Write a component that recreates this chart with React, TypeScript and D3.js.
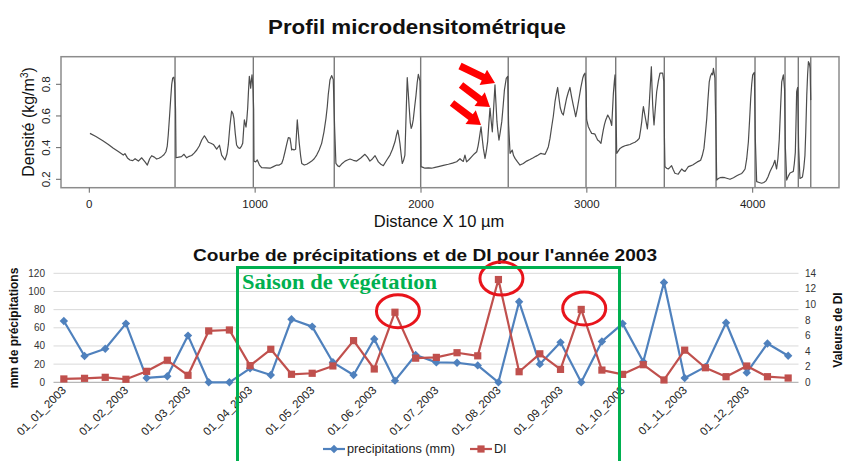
import React from 'react';
import * as d3 from 'd3';

const W = 845;
const H = 461;

// ---------- Top chart: microdensity profile ----------
const ringBoundaries = [517, 989, 1477, 1998, 2526, 2995, 3174, 3467, 3779, 4014, 4195, 4275, 4350];
const distanceTicks = [0, 1000, 2000, 3000, 4000];
const densityTicks = [0.2, 0.4, 0.6, 0.8];

const densityProfile: [number, number][] = [
  // ring 1
  [4, 0.49], [40, 0.47], [84, 0.442], [115, 0.42], [145, 0.396], [175, 0.375], [205, 0.353], [215, 0.362], [230, 0.335], [245, 0.322],
  [262, 0.318], [276, 0.33], [296, 0.315], [316, 0.336], [336, 0.31], [350, 0.29], [364, 0.33], [376, 0.349], [392, 0.34], [406, 0.328],
  [420, 0.333], [436, 0.343], [450, 0.355], [462, 0.374], [470, 0.41], [476, 0.48], [484, 0.6], [491, 0.712], [497, 0.8], [503, 0.84], [510, 0.845], [515, 0.806],
  // ring 2
  [520, 0.64], [523, 0.336], [540, 0.34], [556, 0.343], [571, 0.358], [587, 0.336], [602, 0.345], [617, 0.35], [632, 0.365], [648, 0.385],
  [663, 0.41], [678, 0.448], [694, 0.475], [706, 0.455], [718, 0.434], [733, 0.428], [748, 0.42], [768, 0.39], [785, 0.415], [798, 0.353],
  [818, 0.322], [830, 0.36], [838, 0.417], [848, 0.54], [858, 0.63], [866, 0.615], [872, 0.585], [880, 0.49], [888, 0.417], [898, 0.4],
  [908, 0.395], [918, 0.41], [925, 0.427], [931, 0.52], [935, 0.575], [940, 0.55], [945, 0.53], [950, 0.58], [955, 0.65], [960, 0.76],
  [965, 0.85], [969, 0.82], [973, 0.775], [977, 0.82], [981, 0.86], [987, 0.78],
  // ring 3
  [991, 0.64], [993, 0.315], [1003, 0.31], [1013, 0.322], [1026, 0.29], [1039, 0.273], [1065, 0.272], [1090, 0.27], [1110, 0.28], [1130, 0.29],
  [1145, 0.29], [1160, 0.3], [1170, 0.33], [1180, 0.374], [1190, 0.42], [1200, 0.463], [1210, 0.46], [1216, 0.42], [1220, 0.385], [1227, 0.39],
  [1234, 0.385], [1244, 0.39], [1250, 0.5], [1254, 0.575], [1260, 0.5], [1266, 0.427], [1274, 0.35], [1281, 0.3], [1296, 0.29], [1311, 0.295],
  [1326, 0.305], [1341, 0.315], [1356, 0.33], [1371, 0.353], [1386, 0.385], [1401, 0.427], [1415, 0.5], [1427, 0.585], [1435, 0.66], [1441, 0.737],
  [1446, 0.78], [1451, 0.827], [1461, 0.855], [1471, 0.83],
  // ring 4
  [1479, 0.53], [1487, 0.3], [1498, 0.285], [1508, 0.28], [1525, 0.3], [1542, 0.315], [1557, 0.322], [1572, 0.328], [1592, 0.32], [1612, 0.315],
  [1637, 0.335], [1662, 0.358], [1677, 0.34], [1692, 0.315], [1708, 0.33], [1723, 0.349], [1733, 0.33], [1743, 0.31], [1758, 0.295], [1773, 0.286],
  [1793, 0.32], [1813, 0.353], [1828, 0.39], [1843, 0.437], [1852, 0.48], [1860, 0.51], [1867, 0.47], [1873, 0.427], [1880, 0.36], [1887, 0.3],
  [1895, 0.32], [1903, 0.353], [1910, 0.6], [1917, 0.842], [1923, 0.75], [1929, 0.65], [1935, 0.56], [1941, 0.522], [1947, 0.54], [1953, 0.575],
  [1961, 0.65], [1970, 0.732], [1977, 0.81], [1984, 0.863], [1994, 0.82],
  // ring 5
  [1999, 0.45], [2000, 0.28], [2012, 0.275], [2024, 0.27], [2044, 0.272], [2064, 0.27], [2085, 0.275], [2105, 0.28], [2135, 0.288], [2165, 0.295],
  [2190, 0.302], [2215, 0.311], [2235, 0.33], [2245, 0.32], [2255, 0.313], [2265, 0.353], [2275, 0.31], [2290, 0.325], [2306, 0.343], [2321, 0.36],
  [2336, 0.374], [2344, 0.41], [2350, 0.448], [2356, 0.49], [2362, 0.532], [2369, 0.46], [2376, 0.395], [2386, 0.332], [2394, 0.38], [2402, 0.44],
  [2409, 0.55], [2416, 0.65], [2423, 0.57], [2430, 0.5], [2438, 0.65], [2446, 0.796], [2452, 0.68], [2458, 0.564], [2464, 0.5], [2470, 0.448],
  [2478, 0.5], [2487, 0.564], [2495, 0.66], [2503, 0.764], [2514, 0.838], [2523, 0.85],
  // ring 6
  [2528, 0.55], [2537, 0.364], [2550, 0.385], [2558, 0.35], [2567, 0.332], [2582, 0.31], [2597, 0.29], [2617, 0.3], [2637, 0.315], [2657, 0.325],
  [2677, 0.336], [2692, 0.345], [2707, 0.353], [2723, 0.364], [2735, 0.36], [2748, 0.358], [2758, 0.38], [2768, 0.406], [2778, 0.46], [2788, 0.532],
  [2798, 0.6], [2808, 0.69], [2816, 0.74], [2824, 0.78], [2832, 0.71], [2840, 0.65], [2849, 0.62], [2858, 0.606], [2868, 0.66], [2878, 0.712],
  [2888, 0.75], [2898, 0.78], [2908, 0.72], [2918, 0.669], [2926, 0.63], [2933, 0.595], [2943, 0.65], [2953, 0.712], [2964, 0.78], [2975, 0.838],
  [2982, 0.86], [2989, 0.87],
  // ring 7
  [2996, 0.75], [2999, 0.575], [3009, 0.532], [3019, 0.51], [3029, 0.49], [3039, 0.488], [3049, 0.485], [3057, 0.465], [3065, 0.448], [3075, 0.44],
  [3085, 0.427], [3092, 0.47], [3099, 0.511], [3106, 0.545], [3114, 0.575], [3120, 0.59], [3126, 0.606], [3134, 0.59], [3141, 0.575], [3146, 0.555],
  [3150, 0.54], [3155, 0.64], [3160, 0.743], [3166, 0.82], [3170, 0.86],
  // ring 8
  [3176, 0.62], [3180, 0.364], [3190, 0.38], [3200, 0.395], [3215, 0.405], [3230, 0.412], [3245, 0.416], [3260, 0.42], [3275, 0.428], [3290, 0.434],
  [3304, 0.445], [3316, 0.459], [3324, 0.51], [3331, 0.564], [3336, 0.62], [3341, 0.659], [3349, 0.61], [3357, 0.564], [3365, 0.518], [3370, 0.58],
  [3376, 0.669], [3383, 0.8], [3389, 0.911], [3393, 0.78], [3397, 0.669], [3401, 0.6], [3405, 0.543], [3413, 0.65], [3421, 0.753], [3431, 0.82],
  [3441, 0.87], [3457, 0.87], [3464, 0.82],
  // ring 9
  [3468, 0.45], [3471, 0.28], [3481, 0.27], [3491, 0.265], [3501, 0.275], [3511, 0.286], [3521, 0.26], [3531, 0.238], [3541, 0.235], [3551, 0.233],
  [3562, 0.25], [3572, 0.265], [3582, 0.255], [3592, 0.25], [3602, 0.265], [3612, 0.28], [3625, 0.285], [3638, 0.29], [3652, 0.3], [3666, 0.31],
  [3676, 0.315], [3686, 0.32], [3696, 0.35], [3706, 0.395], [3714, 0.48], [3723, 0.585], [3730, 0.7], [3738, 0.816], [3745, 0.85], [3753, 0.87],
  [3758, 0.86], [3763, 0.9], [3772, 0.84],
  // ring 10
  [3780, 0.4], [3783, 0.195], [3793, 0.205], [3803, 0.21], [3818, 0.212], [3833, 0.21], [3848, 0.205], [3863, 0.2], [3884, 0.21], [3904, 0.222],
  [3919, 0.23], [3934, 0.237], [3944, 0.25], [3954, 0.265], [3964, 0.33], [3974, 0.437], [3981, 0.57], [3988, 0.712], [3994, 0.8], [4000, 0.86],
  [4010, 0.875],
  // ring 11
  [4016, 0.45], [4024, 0.185], [4039, 0.18], [4054, 0.175], [4067, 0.18], [4080, 0.19], [4092, 0.215], [4104, 0.248], [4114, 0.27], [4124, 0.29],
  [4134, 0.32], [4139, 0.29], [4144, 0.265], [4152, 0.33], [4160, 0.45], [4168, 0.65], [4175, 0.816], [4185, 0.86], [4192, 0.77],
  // ring 12
  [4197, 0.4], [4205, 0.195], [4215, 0.22], [4225, 0.24], [4235, 0.245], [4245, 0.25], [4251, 0.3], [4257, 0.37], [4261, 0.55], [4265, 0.753],
  [4271, 0.78],
  // ring 13
  [4277, 0.4], [4285, 0.205], [4293, 0.21], [4300, 0.215], [4308, 0.27], [4315, 0.35], [4320, 0.5], [4326, 0.73], [4331, 0.86], [4336, 0.943],
  [4342, 0.93], [4346, 0.9], [4350, 0.7],
];

// ---------- Bottom chart: precipitation and DI ----------
const monthLabels = [
  '01_01_2003', '01_02_2003', '01_03_2003', '01_04_2003', '01_05_2003', '01_06_2003',
  '01_07_2003', '01_08_2003', '01_09_2003', '01_10_2003', '01_11_2003', '01_12_2003',
];
const precipitation = [
  67.5, 29, 37, 64.6, 4.8, 6.6, 51.4, 0, 0, 15.4, 8, 69.4, 61.3, 22, 8, 47.7, 1.8, 30,
  21.9, 21.5, 18.6, 0, 88.6, 20, 44, 0, 45, 64.6, 22.6, 109.8, 4.7, 17, 65.6, 10.6, 42.7, 29.2,
];
const diValues = [
  0.43, 0.51, 0.64, 0.39, 1.41, 2.83, 0.9, 6.6, 6.72, 2.14, 4.24, 1.03, 1.16, 2.1, 5.35, 1.71, 9.0, 3.1,
  3.2, 3.8, 3.4, 13.2, 1.36, 3.66, 1.66, 9.36, 1.57, 1.02, 2.26, 0.3, 4.13, 1.87, 0.72, 2.09, 0.72, 0.55,
];
const circledIndices = [16, 21, 25];
const precipTicks = [0, 20, 40, 60, 80, 100, 120];
const diTicks = [0, 2, 4, 6, 8, 10, 12, 14];

const BLUE = '#4F81BD';
const RED = '#C0504D';
const GREEN = '#00B050';
const FONT = 'Arial, "Liberation Sans", sans-serif';

function Arrow({ x1, y1, x2, y2 }: { x1: number; y1: number; x2: number; y2: number }) {
  const ang = Math.atan2(y2 - y1, x2 - x1);
  const len = Math.hypot(x2 - x1, y2 - y1);
  const hl = 13, hw = 8.5, sw = 3.6;
  const pts: [number, number][] = [
    [0, -sw], [len - hl, -sw], [len - hl, -hw], [len, 0], [len - hl, hw], [len - hl, sw], [0, sw],
  ];
  const d = pts.map(([a, b]) => `${a},${b}`).join(' ');
  return (
    <polygon
      points={d}
      fill="#FF0000"
      transform={`translate(${x1},${y1}) rotate(${(ang * 180) / Math.PI})`}
    />
  );
}

export default function App() {
  // top scales
  const tL = 61, tR = 839, tT = 56.7, tB = 187.7;
  const xTop = d3.scaleLinear().domain([0, 4000]).range([89.3, 752.7]);
  const yTop = d3.scaleLinear().domain([0.2, 0.8]).range([179.3, 84.3]);
  const profileLine = d3
    .line<[number, number]>()
    .x((d) => xTop(d[0]))
    .y((d) => yTop(d[1]))(densityProfile) || '';

  // bottom scales
  const bL = 53.5, bR = 798.5;
  const xBand = d3.scaleBand<number>().domain(d3.range(precipitation.length)).range([bL, bR]);
  const xc = (i: number) => (xBand(i) || 0) + xBand.bandwidth() / 2;
  const yP = d3.scaleLinear().domain([0, 120]).range([382.3, 273.3]);
  const yD = d3.scaleLinear().domain([0, 14]).range([382.3, 273.3]);
  const precipLine = d3.line<number>().x((_, i) => xc(i)).y((d) => yP(d))(precipitation) || '';
  const diLine = d3.line<number>().x((_, i) => xc(i)).y((d) => yD(d))(diValues) || '';

  const diamond = (x: number, y: number, r = 4.2) => `M${x},${y - r}L${x + r},${y}L${x},${y + r}L${x - r},${y}Z`;

  return (
    <svg
      width={W}
      height={H}
      style={{ position: 'absolute', left: 0, top: 0, background: '#fff' }}
      fontFamily={FONT}
    >
      <rect x={0} y={0} width={W} height={H} fill="#fff" />

      {/* ---------- TOP CHART ---------- */}
      <text x={268} y={34} fontSize={20} fontWeight="bold" fill="#111" textLength={298} lengthAdjust="spacingAndGlyphs">
        Profil microdensitométrique
      </text>

      {/* vertical ring boundaries */}
      {ringBoundaries.map((b) => (
        <line key={b} x1={xTop(b)} x2={xTop(b)} y1={tT} y2={tB} stroke="#7a7a7a" strokeWidth={1.4} />
      ))}
      <path d={profileLine} fill="none" stroke="#4d4d4d" strokeWidth={1.2} strokeLinejoin="round" />
      <rect x={tL} y={tT} width={tR - tL} height={tB - tT} fill="none" stroke="#8c8c8c" strokeWidth={1.5} />

      {/* x ticks */}
      {distanceTicks.map((t) => (
        <g key={t}>
          <line x1={xTop(t)} x2={xTop(t)} y1={tB} y2={tB + 5} stroke="#666" />
          <text x={xTop(t)} y={207.5} textAnchor="middle" fontSize={11.5} fill="#222">
            {t}
          </text>
        </g>
      ))}
      {/* y ticks */}
      {densityTicks.map((t) => (
        <g key={t}>
          <line x1={tL - 5} x2={tL} y1={yTop(t)} y2={yTop(t)} stroke="#666" />
          <text
            transform={`translate(50,${yTop(t)}) rotate(-90)`}
            textAnchor="middle"
            fontSize={11.5}
            fill="#222"
          >
            {t.toFixed(1)}
          </text>
        </g>
      ))}
      <text transform="translate(34,122) rotate(-90)" textAnchor="middle" fontSize={16} fill="#111">
        Densité (kg/m<tspan fontSize={10} dy={-6}>3</tspan>
        <tspan dy={6}>)</tspan>
      </text>
      <text x={439} y={227} textAnchor="middle" fontSize={16.5} fill="#111">
        Distance X 10 µm
      </text>

      {/* red arrows */}
      <Arrow x1={460} y1={66} x2={495} y2={83} />
      <Arrow x1={461} y1={85} x2={490} y2={107} />
      <Arrow x1={452} y1={103} x2={481} y2={125} />

      {/* ---------- BOTTOM CHART ---------- */}
      <text x={193} y={261} fontSize={17} fontWeight="bold" fill="#111" textLength={464} lengthAdjust="spacingAndGlyphs">
        Courbe de précipitations et de DI pour l'année 2003
      </text>

      {precipTicks.map((t) => (
        <g key={t}>
          <line x1={bL} x2={bR} y1={yP(t)} y2={yP(t)} stroke={t === 0 ? '#A6A6A6' : '#D9D9D9'} strokeWidth={1} />
          <text x={45} y={yP(t) + 3.5} textAnchor="end" fontSize={10} fill="#333">
            {t}
          </text>
        </g>
      ))}
      {diTicks.map((t) => (
        <text key={t} x={805} y={yD(t) + 3.5} textAnchor="start" fontSize={10} fill="#333">
          {t}
        </text>
      ))}
      <text transform="translate(18,328) rotate(-90)" textAnchor="middle" fontSize={12} fontWeight="bold" fill="#111">
        mm de précipitations
      </text>
      <text transform="translate(842,330) rotate(-90)" textAnchor="middle" fontSize={12} fontWeight="bold" fill="#111">
        Valeurs de DI
      </text>

      {/* x labels */}
      {monthLabels.map((lab, m) => {
        const x = xc(m * 3);
        return (
          <text
            key={lab}
            transform={`translate(${x + 3},${391}) rotate(-45)`}
            textAnchor="end"
            fontSize={11.5}
            fill="#222"
          >
            {lab}
          </text>
        );
      })}

      {/* series */}
      <path d={precipLine} fill="none" stroke={BLUE} strokeWidth={2.2} strokeLinejoin="round" />
      <path d={diLine} fill="none" stroke={RED} strokeWidth={2.2} strokeLinejoin="round" />
      {precipitation.map((v, i) => (
        <path key={`p${i}`} d={diamond(xc(i), yP(v))} fill={BLUE} />
      ))}
      {diValues.map((v, i) => (
        <rect key={`d${i}`} x={xc(i) - 3.6} y={yD(v) - 3.6} width={7.2} height={7.2} fill={RED} />
      ))}

      {/* red circles */}
      {circledIndices.map((i) => (
        <ellipse
          key={`c${i}`}
          cx={xc(i) + 3}
          cy={yD(diValues[i]) - 1}
          rx={21.5}
          ry={16.5}
          fill="none"
          stroke="#E8141B"
          strokeWidth={3}
        />
      ))}

      {/* growing season rectangle */}
      <path d="M237.5,470 L237.5,267.5 L619.5,267.5 L619.5,470" fill="none" stroke={GREEN} strokeWidth={3} />
      <text
        x={242}
        y={289}
        fontFamily='"Liberation Serif", "Times New Roman", serif'
        fontSize={20.5}
        fontWeight="bold"
        fill={GREEN}
        textLength={195}
        lengthAdjust="spacingAndGlyphs"
      >
        Saison de végétation
      </text>

      {/* legend */}
      <line x1={323} x2={345} y1={449} y2={449} stroke={BLUE} strokeWidth={2.2} />
      <path d={diamond(334, 449)} fill={BLUE} />
      <text x={347} y={453} fontSize={12.5} fill="#222" textLength={108} lengthAdjust="spacingAndGlyphs">
        precipitations (mm)
      </text>
      <line x1={470} x2={492} y1={449} y2={449} stroke={RED} strokeWidth={2.2} />
      <rect x={477.4} y={445.4} width={7.2} height={7.2} fill={RED} />
      <text x={494} y={453} fontSize={12.5} fill="#222">
        DI
      </text>
    </svg>
  );
}
